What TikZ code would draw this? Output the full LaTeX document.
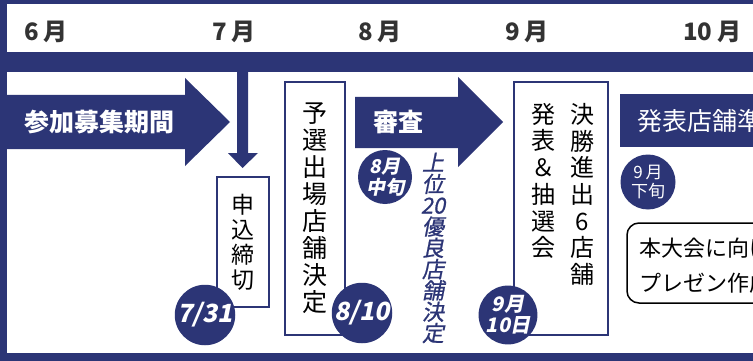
\documentclass[tikz,border=0pt]{standalone}
\usepackage{fontspec}
\newfontfamily\jp{Noto Sans CJK JP}
\newfontfamily\jpi[FakeSlant=0.2]{Noto Sans CJK JP}
\newfontfamily\jpim[FakeSlant=0.2,FakeBold=0.8]{Noto Sans CJK JP}
\definecolor{navy}{RGB}{44,53,118}
\begin{document}
\begin{tikzpicture}[x=1pt,y=-1pt,
  month/.style={font=\jp\bfseries\fontsize{24}{24}\selectfont, text=black!80, anchor=west, inner sep=0pt},
  bandtext/.style={font=\jp\bfseries\fontsize{25}{25}\selectfont, text=white, anchor=west, inner sep=0pt},
  vbox/.style={draw=navy, line width=2pt, fill=white, inner sep=0pt},
  vtext/.style={align=center, inner sep=0pt, text=black},
  datec/.style={circle, fill=navy, inner sep=0pt, text=white, align=center},
  boxtext/.style={font=\jp\fontsize{22}{22}\selectfont, anchor=west, inner sep=0pt, text=black}
]
\useasboundingbox (0,0) rectangle (753,361);
\clip (0,0) rectangle (753,361);
% frame
\fill[navy] (0,0) rectangle (753,361);
\fill[white] (7,4) rectangle (753,52);
\fill[white] (7,72) rectangle (753,353);
% months
\node[month] (m6) at (24,32) {6\hspace{5pt}月};
\node[month] (m7) at (212,32) {7\hspace{5pt}月};
\node[month] (m8) at (358,32) {8\hspace{5pt}月};
\node[month] (m9) at (505,32) {9\hspace{5pt}月};
\node[month] (m10) at (683,32) {10\hspace{5pt}月};
% arrow 1
\fill[navy] (7,95) -- (185,95) -- (185,78) -- (230,122) -- (185,166) -- (185,149) -- (7,149) -- cycle;
\node[bandtext] (a1) at (24,122) {参加募集期間};
% down arrow
\coordinate (dtop) at (242.5,70);
\coordinate (dtip) at (242.5,168);
\fill[navy] (237,70) -- (248,70) -- (248,153) -- (258,153) -- (dtip) -- (228,153) -- (237,153) -- cycle;
% box 1
\node[vbox, minimum width=52pt, minimum height=130pt] (b1) at (243,242) {};
\node[vtext, font=\jp\fontsize{23}{25}\selectfont] (t1) at (b1.center) {申\\込\\締\\切};
% box 2
\node[vbox, minimum width=60pt, minimum height=253pt] (b2) at (315,208.5) {};
\node[vtext, font=\jp\fontsize{25}{27}\selectfont] (t2) at (b2.center) {予\\選\\出\\場\\店\\舗\\決\\定};
% arrow 2
\fill[navy] (355,97) -- (458,97) -- (458,77) -- (503,122) -- (458,167) -- (458,148) -- (355,148) -- cycle;
\node[bandtext] (a2) at (373,122) {審査};
% italic vertical text
\node[vtext, font=\jpim\fontsize{22}{21.3}\selectfont, text=navy] (v1) at (433,248) {上\\位\\20\\優\\良\\店\\舗\\決\\定};
% box 3
\node[vbox, minimum width=94pt, minimum height=253pt] (b3) at (561,208.5) {};
\node[vtext, font=\jp\fontsize{24}{26.7}\selectfont, anchor=north] (t3a) at (582,103) {決\\勝\\進\\出\\6\\店\\舗};
\node[vtext, font=\jp\fontsize{24}{26.7}\selectfont, anchor=north] (t3b) at (543,103) {発\\表\\＆\\抽\\選\\会};
% band 3
\fill[navy] (620,94) rectangle (760,147);
\node[bandtext, font=\jp\fontsize{25}{25}\selectfont] (a3) at (637,121) {発表店舗準};
% rounded box
\draw[black, line width=1.5pt, rounded corners=12pt] (627,223) rectangle (790,303);
\node[boxtext] (r1) at (639,248) {本大会に向け};
\node[boxtext] (r2) at (639,283) {プレゼン作成};
% circles
\node[datec, minimum size=56pt, font=\jpi\bfseries\fontsize{25}{25}\selectfont] (c1) at (205,315) {7/31};
\node[datec, minimum size=56pt, font=\jpi\bfseries\fontsize{25}{25}\selectfont] (c2) at (362,313) {8/10};
\node[datec, minimum size=54pt, font=\jpi\bfseries\fontsize{19}{21}\selectfont] (c3) at (385,177) {8月\\中旬};
\node[datec, minimum size=56pt, font=\jpi\bfseries\fontsize{20}{21}\selectfont] (c4) at (508,315) {9月\\10日};
\node[datec, minimum size=55pt, font=\jp\fontsize{17}{19}\selectfont] (c5) at (648,182) {9\hspace{3pt}月\\下旬};
\end{tikzpicture}
\end{document}
